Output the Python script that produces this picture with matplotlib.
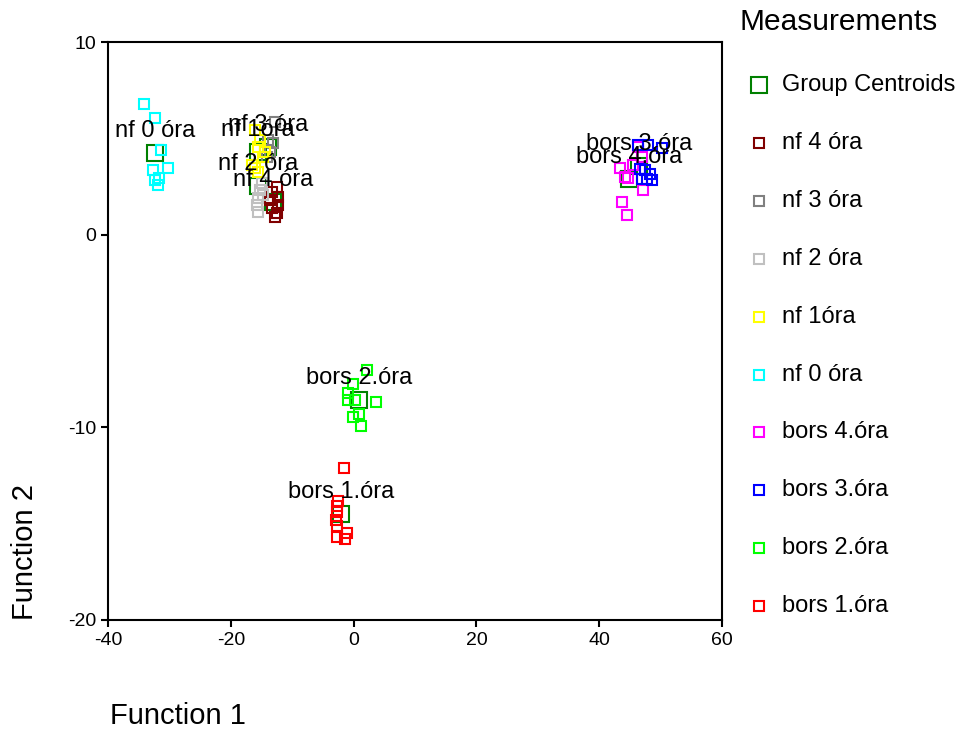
import matplotlib
matplotlib.use("Agg")
from matplotlib import pyplot as plt
from matplotlib.lines import Line2D

plt.rcParams['font.family'] = ['Liberation Sans', 'DejaVu Sans']
plt.rcParams['axes.unicode_minus'] = False

# discriminant scores (Function 1, Function 2) per group
groups = ['nf 4 óra', 'nf 3 óra', 'nf 2 óra', 'nf 1óra', 'nf 0 óra',
          'bors 4.óra', 'bors 3.óra', 'bors 2.óra', 'bors 1.óra']
colors = ['#800000', '#808080', '#c0c0c0', '#ffff00', '#00ffff',
          '#ff00ff', '#0000ff', '#00ff00', '#ff0000']

nf4_x = [-12.5, -13.3, -12.3, -13.6, -12.3, -13.3, -12.5, -12.8]
nf4_y = [2.48, 2.22, 1.96, 1.80, 1.54, 1.39, 1.13, 0.92]
nf3_x = [-12.8, -13.9, -13.1, -13.6, -14.1]
nf3_y = [5.85, 4.91, 4.76, 4.29, 4.03]
nf2_x = [-15.2, -14.9, -15.6, -15.7, -15.6, -14.8]
nf2_y = [2.32, 2.68, 1.90, 1.54, 1.18, 2.06]
nf1_x = [-16.1, -15.2, -15.6, -14.4, -14.8, -16.6, -16.1, -15.6]
nf1_y = [5.43, 4.91, 4.55, 4.29, 4.03, 3.62, 3.46, 3.25]
nf0_x = [-34.1, -32.4, -31.4, -30.2, -32.7, -31.7, -32.4, -31.9]
nf0_y = [6.78, 6.05, 4.40, 3.46, 3.36, 2.94, 2.84, 2.58]
bors4_x = [43.4, 45.5, 44.2, 44.7, 47.1, 43.7, 44.5, 47.0, 46.3]
bors4_y = [3.46, 3.62, 3.00, 2.95, 2.32, 1.70, 1.02, 4.03, 4.55]
bors3_x = [46.3, 48.0, 50.2, 46.6, 47.5, 48.3, 47.0, 47.8, 48.6]
bors3_y = [4.66, 4.66, 4.50, 3.41, 3.36, 3.15, 2.89, 2.89, 2.84]
bors2_x = [2.2, -0.1, -0.9, -0.9, 0.2, 3.7, -0.1, 0.9, 1.2]
bors2_y = [-7.02, -7.75, -8.22, -8.58, -8.58, -8.68, -9.46, -9.31, -9.93]
bors1_x = [-1.6, -2.5, -2.7, -2.7, -2.9, -2.7, -2.7, -1.1, -1.4]
bors1_y = [-12.1, -13.8, -14.1, -14.4, -14.8, -15.1, -15.7, -15.5, -15.8]

xs = [nf4_x, nf3_x, nf2_x, nf1_x, nf0_x, bors4_x, bors3_x, bors2_x, bors1_x]
ys = [nf4_y, nf3_y, nf2_y, nf1_y, nf0_y, bors4_y, bors3_y, bors2_y, bors1_y]

# group centroids
cent_x = [-13.1, -13.9, -15.6, -15.6, -32.4, 44.9, 46.5, 0.9, -2.1]
cent_y = [1.70, 4.55, 2.53, 4.29, 4.24, 2.88, 3.55, -8.58, -14.5]

W, H = 957, 731
fig = plt.figure(figsize=(W / 100, H / 100), dpi=100)
ax = fig.add_axes([108 / W, 1 - 620 / H, 614 / W, 578 / H])

ax.plot(cent_x, cent_y, 's', ms=11.5, mfc='none', mec='#008000', mew=1.5,
        linestyle='none', zorder=2)
for gx, gy, c in zip(xs, ys, colors):
    ax.plot(gx, gy, 's', ms=6.5, mfc='none', mec=c, mew=1.5,
            linestyle='none', zorder=3)

for name, cx, cy in zip(groups, cent_x, cent_y):
    ax.annotate(name, (cx, cy), xytext=(0, 16), textcoords='offset points',
                ha='center', va='center', fontsize=17, zorder=5)

ax.set_xlim(-40, 60)
ax.set_ylim(-20, 10)
ax.set_xticks([-40, -20, 0, 20, 40, 60])
ax.set_yticks([-20, -10, 0, 10])
ax.tick_params(axis='both', labelsize=14, width=1.5, length=5, direction='out',
               top=False, right=False)
for s in ax.spines.values():
    s.set_linewidth(1.5)

fig.text(110 / W, 1 - 716 / H, 'Function 1', fontsize=21, ha='left', va='center')
fig.text(25 / W, 1 - 620 / H, 'Function 2', fontsize=21, rotation=90,
         ha='center', va='bottom')

# legend drawn row by row on the figure
fig.text(740 / W, 1 - 22 / H, 'Measurements', fontsize=21.5, ha='left', va='center')
leg_labels = ['Group Centroids'] + groups
leg_colors = ['#008000'] + colors
for i, (lab, c) in enumerate(zip(leg_labels, leg_colors)):
    yy = 1 - (85 + i * 57.9) / H
    ms = 11.5 if i == 0 else 6.5
    fig.add_artist(Line2D([759 / W], [yy], marker='s', ms=ms, mfc='none', mec=c,
                          mew=1.5, linestyle='none', transform=fig.transFigure))
    fig.text(782 / W, yy, lab, fontsize=17, ha='left', va='center')

fig.savefig('out.png', dpi=100)
